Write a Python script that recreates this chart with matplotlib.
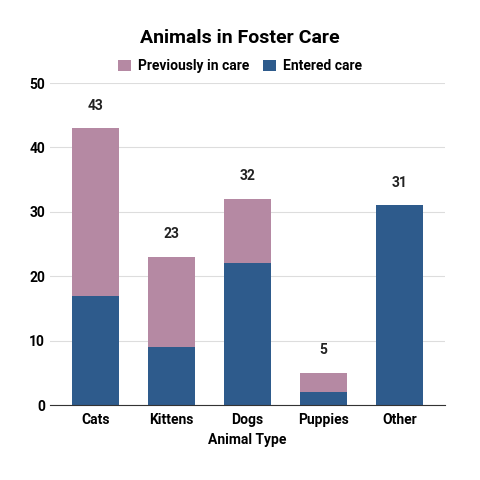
import matplotlib
matplotlib.use("Agg")
import matplotlib.pyplot as plt

categories = ["Cats", "Kittens", "Dogs", "Puppies", "Other"]
entered = [17, 9, 22, 2, 31]
previously = [26, 14, 10, 3, 0]
totals = [e + p for e, p in zip(entered, previously)]

plt.rcParams['font.family'] = ['Roboto', 'DejaVu Sans']
fig = plt.figure(figsize=(4.8, 4.8), dpi=100)
ax = fig.add_axes([0.104, 0.156, 0.823, 0.671])
x = range(len(categories))
ax.bar(x, entered, width=0.61, color="#2e5b8c", label="Entered care", zorder=2)
ax.bar(x, previously, bottom=entered, width=0.61, color="#b589a3", label="Previously in care", zorder=2)
for i, t in enumerate(totals):
    ax.text(i, t + 3.5, str(t), ha="center", va="center", fontsize=10, fontweight="bold", color="#222222")
ax.set_ylim(0, 50)
ax.set_yticks(range(0, 51, 10))
ax.set_xlim(-0.6, 4.6)
ax.set_xticks(list(x))
ax.set_xticklabels(categories, fontsize=10, fontweight="bold")
ax.tick_params(axis='y', labelsize=10, length=0)
for lab in ax.get_yticklabels():
    lab.set_fontweight("bold")
ax.tick_params(axis='x', length=0, pad=6)
ax.grid(axis='y', color="#dddddd", linewidth=0.8, zorder=0)
for s in ["top", "right", "left"]:
    ax.spines[s].set_visible(False)
ax.spines["bottom"].set_color("#333333")
ax.set_xlabel("Animal Type", fontsize=10, fontweight="bold")
h, l = ax.get_legend_handles_labels()
fig.legend(h[::-1], l[::-1], loc="center", bbox_to_anchor=(0.5, 0.862), ncol=2, frameon=False,
           prop={'weight': 'bold', 'size': 10}, handlelength=0.9, handleheight=0.9, columnspacing=1.0, handletextpad=0.5)
fig.suptitle("Animals in Foster Care", y=0.94, fontsize=14, fontweight="bold")
fig.savefig("out.png", dpi=100, facecolor="white")
